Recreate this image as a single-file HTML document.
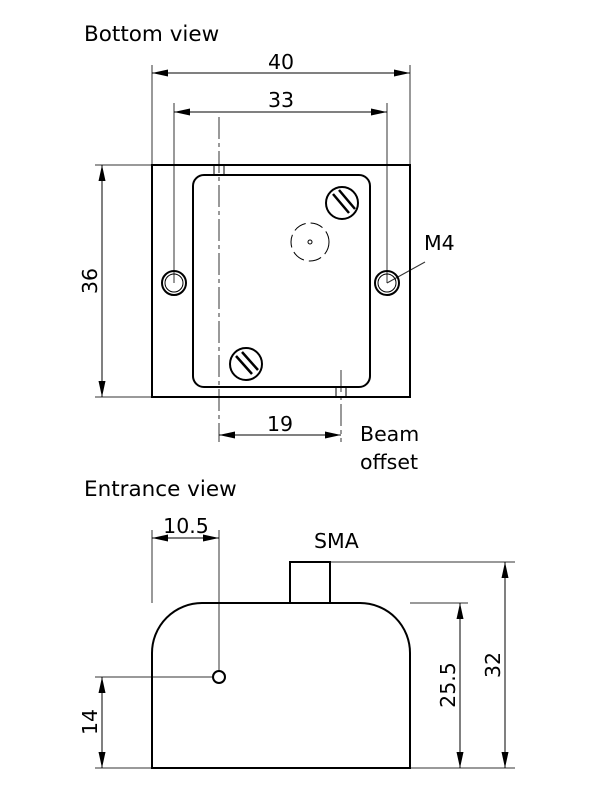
<!DOCTYPE html>
<html><head><style>body{margin:0;background:#fff}svg{display:block}text{font-family:"DejaVu Sans","Liberation Sans",sans-serif;fill:#000}</style></head>
<body>
<svg width="600" height="800" viewBox="0 0 600 800">
<defs>
<marker id="a" markerWidth="16" markerHeight="7" refX="16" refY="3.5" orient="auto" markerUnits="userSpaceOnUse"><path d="M0,0 L16,3.5 L0,7z" fill="#000"/></marker>
<marker id="b" markerWidth="16" markerHeight="7" refX="0" refY="3.5" orient="auto" markerUnits="userSpaceOnUse"><path d="M16,0 L0,3.5 L16,7z" fill="#000"/></marker>
</defs>
<text x="84" y="41" font-size="21.5">Bottom view</text>
<text x="84" y="496" font-size="21.5">Entrance view</text>
<g stroke="#333" stroke-width="1" fill="none">
<line x1="152" y1="65" x2="152" y2="165"/><line x1="410" y1="65" x2="410" y2="165"/>
<line x1="174" y1="103" x2="174" y2="283"/><line x1="387" y1="103" x2="387" y2="283"/>
<line x1="95" y1="165" x2="152" y2="165"/><line x1="95" y1="397" x2="152" y2="397"/>
<line x1="219" y1="117" x2="219" y2="442" stroke-dasharray="22,4,4,4"/>
<line x1="341" y1="370" x2="341" y2="442" stroke-dasharray="22,4,4,4"/>
<line x1="387" y1="283" x2="425" y2="262"/>
<line x1="152" y1="530" x2="152" y2="603"/><line x1="219" y1="530" x2="219" y2="671"/>
<line x1="95" y1="677" x2="213" y2="677"/>
<line x1="95" y1="768" x2="515" y2="768"/>
<line x1="330" y1="562" x2="515" y2="562"/><line x1="410" y1="603" x2="468" y2="603"/>
</g>
<g stroke="#000" stroke-width="1" marker-start="url(#b)" marker-end="url(#a)">
<line x1="152" y1="73" x2="410" y2="73"/>
<line x1="174" y1="112" x2="387" y2="112"/>
<line x1="102" y1="165" x2="102" y2="397"/>
<line x1="219" y1="435" x2="341" y2="435"/>
<line x1="152" y1="538" x2="219" y2="538"/>
<line x1="102" y1="677" x2="102" y2="768"/>
<line x1="460" y1="603" x2="460" y2="768"/>
<line x1="505" y1="562" x2="505" y2="768"/>
</g>
<g font-size="20.5">
<text x="281" y="69" text-anchor="middle">40</text>
<text x="281" y="107" text-anchor="middle">33</text>
<text x="280" y="431" text-anchor="middle">19</text>
<text x="186" y="533" text-anchor="middle">10.5</text>
<text x="424" y="250">M4</text>
<text x="360" y="441">Beam</text>
<text x="360" y="469">offset</text>
<text x="314" y="548">SMA</text>
<text transform="translate(97,281) rotate(-90)" text-anchor="middle">36</text>
<text transform="translate(97,722) rotate(-90)" text-anchor="middle">14</text>
<text transform="translate(455,685) rotate(-90)" text-anchor="middle">25.5</text>
<text transform="translate(500,665) rotate(-90)" text-anchor="middle">32</text>
</g>
<g fill="none" stroke="#000" stroke-width="2">
<rect x="152" y="165" width="258" height="232"/>
<rect x="193" y="175" width="177" height="212" rx="11"/>
<circle cx="174" cy="283" r="12"/><circle cx="387" cy="283" r="12"/>
<circle cx="342" cy="203" r="16"/><circle cx="246" cy="364" r="16"/>
<path d="M152,768 V653 A50,50 0 0 1 202,603 H360 A50,50 0 0 1 410,653 V768 Z"/>
<rect x="290" y="562" width="40" height="41"/>
<circle cx="219" cy="677" r="6"/>
</g>
<g fill="none" stroke="#000" stroke-width="1">
<circle cx="174" cy="283" r="9"/><circle cx="387" cy="283" r="9"/>
<line x1="333" y1="194" x2="349" y2="213" stroke-width="2.5"/><line x1="339" y1="190" x2="355" y2="209" stroke-width="2.5"/>
<line x1="236" y1="356" x2="252" y2="374" stroke-width="2.5"/><line x1="242" y1="352" x2="258" y2="370" stroke-width="2.5"/>
<circle cx="310" cy="242" r="19" stroke-dasharray="13,5"/><circle cx="310" cy="242" r="2"/>
<line x1="214" y1="165" x2="214" y2="175"/><line x1="224" y1="165" x2="224" y2="175"/>
<line x1="336" y1="387" x2="336" y2="397"/><line x1="346" y1="387" x2="346" y2="397"/>
</g>
</svg>
</body></html>
